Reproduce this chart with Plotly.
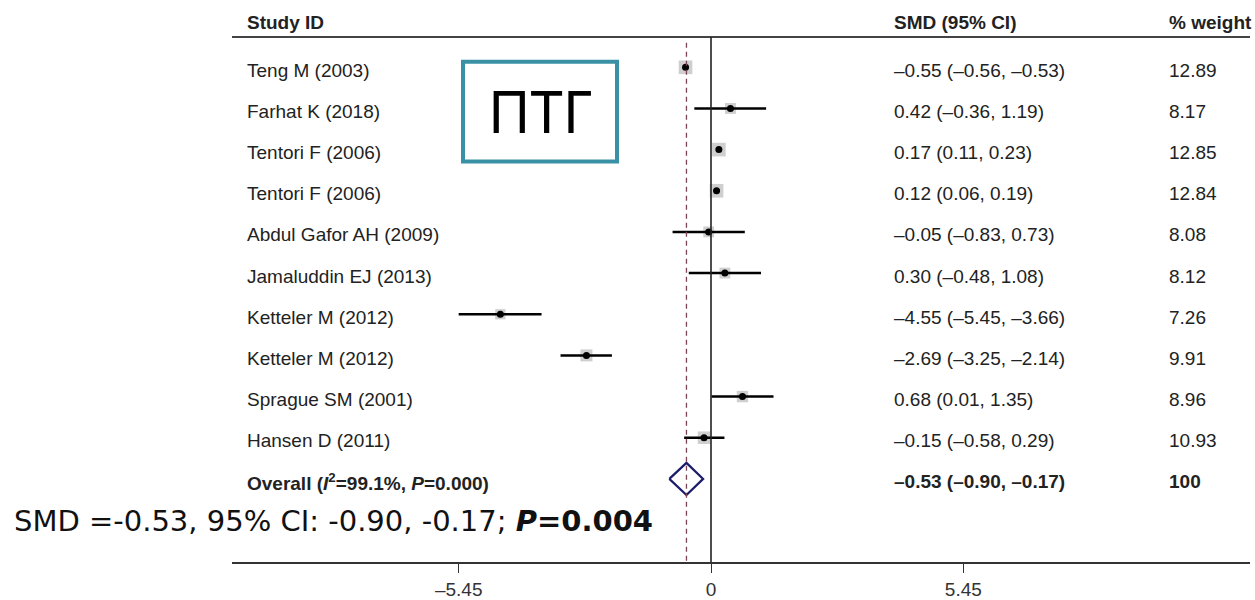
import plotly.graph_objects as go

# ---- data -------------------------------------------------------------
studies = [
    "Teng M (2003)", "Farhat K (2018)", "Tentori F (2006)", "Tentori F (2006)",
    "Abdul Gafor AH (2009)", "Jamaluddin EJ (2013)", "Ketteler M (2012)",
    "Ketteler M (2012)", "Sprague SM (2001)", "Hansen D (2011)",
]
smd = [-0.55, 0.42, 0.17, 0.12, -0.05, 0.30, -4.55, -2.69, 0.68, -0.15]
ci_low = [-0.56, -0.36, 0.11, 0.06, -0.83, -0.48, -5.45, -3.25, 0.01, -0.58]
ci_high = [-0.53, 1.19, 0.23, 0.19, 0.73, 1.08, -3.66, -2.14, 1.35, 0.29]
weights = [12.89, 8.17, 12.85, 12.84, 8.08, 8.12, 7.26, 9.91, 8.96, 10.93]

overall_est = -0.53
overall_low = -0.90
overall_high = -0.17
overall_label = "Overall (<i>I</i><sup>2</sup>=99.1%, <i>P</i>=0.000)"

tick_vals = [-5.45, 0, 5.45]
tick_text = ["\u20135.45", "0", "5.45"]

summary_text = "SMD =-0.53, 95% CI: -0.90, -0.17; <b><i>P</i>=0.004</b>"
box_text = "ПТГ"

# ---- layout helpers ---------------------------------------------------
W, H = 1255, 600


def px(x):
    return x / W


def py(y):
    return 1 - y / H


def fmt(v):
    s = f"{v:.2f}"
    return s.replace("-", "\u2013")


rows = list(range(len(studies)))
overall_row = len(studies)

fig = go.Figure()

# weight squares
fig.add_trace(go.Scatter(
    x=smd, y=rows, mode="markers",
    marker=dict(symbol="square", color="#bababa",
                size=[3.8 * w ** 0.5 for w in weights], line=dict(width=0)),
    hoverinfo="skip", showlegend=False,
))

# point estimates with confidence intervals
fig.add_trace(go.Scatter(
    x=smd, y=rows, mode="markers",
    marker=dict(symbol="circle", color="black", size=7),
    error_x=dict(type="data", symmetric=False,
                 array=[h - e for h, e in zip(ci_high, smd)],
                 arrayminus=[e - l for e, l in zip(smd, ci_low)],
                 color="black", thickness=2.5, width=0),
    showlegend=False,
))

# overall diamond
dh = 0.39
fig.add_trace(go.Scatter(
    x=[overall_low, overall_est, overall_high, overall_est, overall_low],
    y=[overall_row, overall_row - dh, overall_row, overall_row + dh, overall_row],
    mode="lines", line=dict(color="#1c1c6b", width=2.2),
    hoverinfo="skip", showlegend=False,
))

shapes = [
    # header rule
    dict(type="line", xref="paper", yref="paper", x0=px(232), x1=px(1250),
         y0=py(37), y1=py(37), line=dict(color="#444444", width=2)),
    # line of no effect
    dict(type="line", xref="x", yref="paper", x0=0, x1=0,
         y0=py(37), y1=py(564), line=dict(color="#222222", width=1.6)),
    # overall estimate reference
    dict(type="line", xref="x", yref="paper", x0=overall_est, x1=overall_est,
         y0=py(43), y1=py(564),
         line=dict(color="#7a4455", width=1.3, dash="5px,4px")),
    # label box
    dict(type="rect", xref="paper", yref="paper", x0=px(463), x1=px(617),
         y0=py(62), y1=py(162), line=dict(color="#3a91a6", width=4)),
]

text_font = dict(family="Liberation Sans, Arial", size=19, color="#222222")
ann = []
ann.append(dict(text="<b>Study ID</b>", x=px(245), y=py(20)))
ann.append(dict(text="<b>SMD (95% CI)</b>", x=px(892), y=py(20)))
ann.append(dict(text="<b>% weight</b>", x=px(1167), y=py(20)))

for i, name in enumerate(studies):
    ann.append(dict(text=name, x=px(245), y=i, yref="y"))
    ann.append(dict(text=f"{fmt(smd[i])} ({fmt(ci_low[i])}, {fmt(ci_high[i])})",
                    x=px(892), y=i, yref="y"))
    ann.append(dict(text=f"{weights[i]:.2f}", x=px(1167), y=i, yref="y"))

ann.append(dict(text=f"<b>{overall_label}</b>", x=px(245), y=overall_row, yref="y"))
ann.append(dict(text=f"<b>{fmt(overall_est)} ({fmt(overall_low)}, {fmt(overall_high)})</b>",
                x=px(892), y=overall_row, yref="y"))
ann.append(dict(text="<b>100</b>", x=px(1167), y=overall_row, yref="y"))

annotations = []
for a in ann:
    d = dict(xref="paper", yref=a.get("yref", "paper"), x=a["x"], y=a["y"],
             text=a["text"], showarrow=False, xanchor="left", yanchor="middle",
             font=text_font, yshift=-3)
    annotations.append(d)

annotations.append(dict(
    xref="paper", yref="paper", x=px(12), y=py(523), text=summary_text,
    showarrow=False, xanchor="left", yanchor="middle",
    font=dict(family="DejaVu Sans", size=29, color="#111111")))
annotations.append(dict(
    xref="paper", yref="paper", x=px(540), y=py(111), text=box_text,
    showarrow=False, xanchor="center", yanchor="middle",
    font=dict(family="Noto Sans", size=58, color="#000000")))

row_px = 41.3
row0_px = 67.5
bottom_px = 564
x0_px = 711
unit_px = 46.3

fig.update_layout(
    width=W, height=H,
    margin=dict(l=0, r=0, t=0, b=0),
    paper_bgcolor="white", plot_bgcolor="white",
    shapes=shapes, annotations=annotations,
    xaxis=dict(domain=[px(232), px(1250)],
               range=[(232 - x0_px) / unit_px, (1250 - x0_px) / unit_px],
               showgrid=False, zeroline=False, showline=True,
               linecolor="#333333", linewidth=2,
               tickmode="array", tickvals=tick_vals, ticktext=tick_text,
               ticks="outside", ticklen=9, tickwidth=1.3, tickcolor="#333333",
               tickfont=dict(family="Liberation Sans, Arial", size=19, color="#333333"),
               fixedrange=True),
    yaxis=dict(domain=[1 - bottom_px / H, 1],
               range=[(bottom_px - row0_px) / row_px, -row0_px / row_px],
               showgrid=False, zeroline=False, showline=False,
               showticklabels=False, ticks="", fixedrange=True),
)

fig.write_html("out.html")
